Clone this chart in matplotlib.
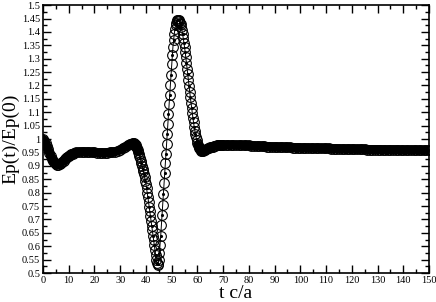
import matplotlib
matplotlib.use("Agg")
import matplotlib.pyplot as plt
import numpy as np
from matplotlib.ticker import MultipleLocator, FormatStrFormatter

# Ep(t)/Ep(0), w kilku odcinkach o różnym kroku czasu
t_a1 = np.arange(0, 12, 0.5)
ep_a1 = [1.000, 0.994, 0.985, 0.974, 0.962, 0.949, 0.937, 0.926, 0.917, 0.911,
         0.907, 0.905, 0.905, 0.907, 0.911, 0.915, 0.920, 0.925, 0.930, 0.934,
         0.938, 0.941, 0.944, 0.946]

t_a2 = np.arange(12, 35, 1.0)
ep_a2 = [0.948, 0.950, 0.951, 0.952, 0.952, 0.952, 0.951, 0.950, 0.950, 0.949,
         0.949, 0.949, 0.949, 0.949, 0.950, 0.951, 0.953, 0.956, 0.960, 0.965,
         0.970, 0.977, 0.983]

t_b = np.arange(35, 62.01, 0.25)
ep_b = [0.986, 0.985, 0.983, 0.980, 0.976, 0.971, 0.966, 0.960, 0.953, 0.945,
        0.937, 0.929, 0.920, 0.910, 0.900, 0.890, 0.880, 0.869, 0.857, 0.845,
        0.832, 0.816, 0.800, 0.783, 0.766, 0.748, 0.731, 0.713, 0.695, 0.677,
        0.659, 0.640, 0.622, 0.604, 0.586, 0.567, 0.550, 0.537, 0.531, 0.535,
        0.550, 0.575, 0.605, 0.640, 0.678, 0.716, 0.755, 0.795, 0.835, 0.873,
        0.910, 0.946, 0.982, 1.018, 1.055, 1.092, 1.130, 1.166, 1.202, 1.240,
        1.280, 1.315, 1.345, 1.370, 1.392, 1.410, 1.424, 1.434, 1.440, 1.443,
        1.444, 1.443, 1.440, 1.435, 1.428, 1.418, 1.406, 1.392, 1.377, 1.360,
        1.343, 1.325, 1.305, 1.284, 1.263, 1.242, 1.220, 1.198, 1.177, 1.156,
        1.136, 1.116, 1.097, 1.079, 1.062, 1.046, 1.031, 1.018, 1.006, 0.995,
        0.986, 0.978, 0.971, 0.966, 0.962, 0.959, 0.957, 0.956, 0.956]

t_c = np.arange(62.5, 70.01, 0.5)
ep_c = [0.958, 0.960, 0.962, 0.965, 0.967, 0.969, 0.971, 0.972, 0.974, 0.975,
        0.976, 0.977, 0.977, 0.978, 0.978, 0.978]

t_d = np.arange(71, 150.01, 1.0)
ep_d = [0.978, 0.978, 0.978, 0.978, 0.977, 0.977, 0.977, 0.976, 0.976, 0.976,
        0.975, 0.975, 0.974, 0.974, 0.973, 0.973, 0.972, 0.972, 0.971, 0.971,
        0.970, 0.970, 0.970, 0.969, 0.969, 0.969, 0.968, 0.968, 0.968, 0.967,
        0.967, 0.967, 0.967, 0.966, 0.966, 0.966, 0.966, 0.965, 0.965, 0.965,
        0.965, 0.964, 0.964, 0.964, 0.964, 0.963, 0.963, 0.963, 0.963, 0.963,
        0.962, 0.962, 0.962, 0.962, 0.962, 0.961, 0.961, 0.961, 0.961, 0.961,
        0.961, 0.960, 0.960, 0.960, 0.960, 0.960, 0.960, 0.960, 0.959, 0.959,
        0.959, 0.959, 0.959, 0.959, 0.959, 0.959, 0.958, 0.958, 0.958, 0.958]

t = np.concatenate([t_a1, t_a2, t_b, t_c, t_d])
ep = np.concatenate([ep_a1, ep_a2, ep_b, ep_c, ep_d])

plt.rcParams['font.family'] = ['Liberation Serif', 'DejaVu Serif']

fig = plt.figure(figsize=(4.36, 3.02), dpi=100)
ax = fig.add_axes([0.0986, 0.096, 0.8854, 0.887])

# w płaskich fragmentach kółka zlewają się w gruby czarny pas
flat_l_t = np.concatenate([t_a1, t_a2, t_b[:9]])
flat_l_ep = np.concatenate([ep_a1, ep_a2, ep_b[:9]])
flat_r_t = np.concatenate([t_b[-8:], t_c, t_d])
flat_r_ep = np.concatenate([ep_b[-8:], ep_c, ep_d])
for xx, yy in [(flat_l_t, flat_l_ep), (flat_r_t, flat_r_ep)]:
    ax.plot(xx, yy, '-', color='black', lw=6.5, solid_capstyle='round')

ax.plot(t, ep, '-', color='black', lw=0.7, marker='o', ms=7, mfc='none',
        mec='black', mew=0.8)
ax.plot(t, ep, '.', color='black', ms=2.5, markevery=2)

ax.set_xlim(0, 150)
ax.set_ylim(0.5, 1.5)
ax.xaxis.set_major_locator(MultipleLocator(10))
ax.xaxis.set_minor_locator(MultipleLocator(5))
ax.yaxis.set_major_locator(MultipleLocator(0.05))
ax.yaxis.set_minor_locator(MultipleLocator(0.025))
ax.yaxis.set_major_formatter(FormatStrFormatter('%g'))
ax.tick_params(which='both', direction='in', top=True, right=True,
               labelsize=7.5, pad=2)
ax.tick_params(which='major', length=6, width=1)
ax.tick_params(which='minor', length=3, width=1)
for s in ax.spines.values():
    s.set_linewidth(1.2)

ax.set_xlabel("t c/a", fontsize=14, labelpad=0)
ax.set_ylabel("Ep(t)/Ep(0)", fontsize=14, labelpad=2)

fig.savefig("out.png", dpi=100)
